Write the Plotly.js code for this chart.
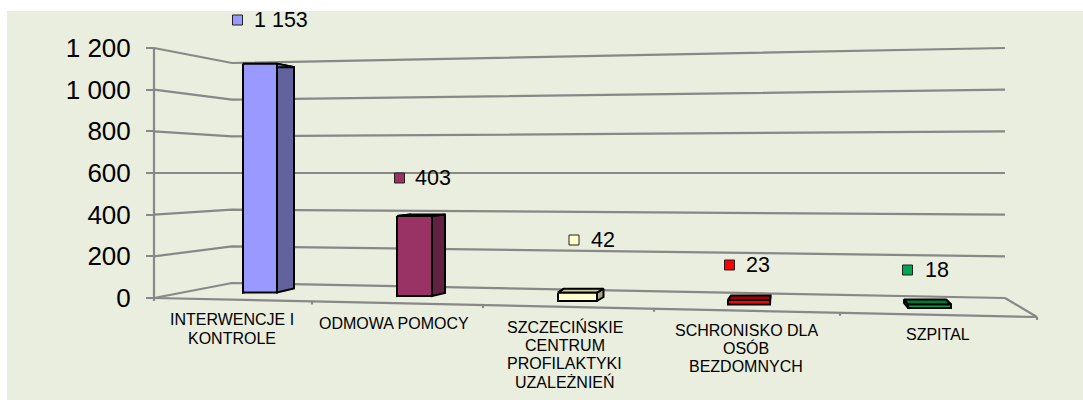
<!DOCTYPE html>
<html><head><meta charset="utf-8">
<script src="https://cdn.plot.ly/plotly-3.0.1.min.js"></script>
<style>html,body{margin:0;padding:0;background:#fff;overflow:hidden}#c{position:absolute;left:7px;top:11px;width:1076px;height:389px}</style>
</head><body><div id="c"></div>
<script>
// ---- data ----
const categories = ["INTERWENCJE I<br>KONTROLE","ODMOWA POMOCY","SZCZECIŃSKIE<br>CENTRUM<br>PROFILAKTYKI<br>UZALEŻNIEŃ","SCHRONISKO DLA<br>OSÓB<br>BEZDOMNYCH","SZPITAL"];
const values = [1153,403,42,23,18];
const yTicks = [0,200,400,600,800,1000,1200];
const yTickText = ["0","200","400","600","800","1 000","1 200"];

// ---- styles ----
const frontColors = ["#9999FF","#993366","#FFFFCC","#FF0000","#00A651"];
const sideColors  = ["#62629F","#632142","#A5A584","#A50000","#006B34"];
const topColors   = ["#7A7ACC","#7A2952","#CCCCA3","#A80000","#007A3D"];
const grid = "#888888", BG = "#EAEEDE", FONT = "Liberation Sans, Arial, sans-serif";

// ---- pseudo-3D geometry (page pixels; converted into axis units) ----
const PXPERUNIT = 250/1200, FACE = 0.1985;
const v = py => (298-py)/PXPERUNIT;            // page y -> y-axis units
const frontL = [243,397,558,728,908], frontR = [277,432,597,770,951];
const floorY = [292.5,296,301,304.5,308];
const dxL = [17,13,6,3,-4], dxR = [17,13,6.5,0.5,-5], dyT = [3.5,-1.5,-4,-4.5,-5], dyB = [-4,-3,-4,-4.5,-5];
const catLabelX = [231.7,393.8,564.7,746,937.5], catLabelY = [319.7,323.3,326.7,330,334], catLineGap = 18.3;
const markerX = [237.5,399.5,574,729.5,907.5], markerY = [20,178,240,265,270];
const textX = [254,415,591,746,925], textY = [22,180,242,266.5,271.5];
const axisTicksX = [154,312,483,654,840,1037];

const traces = [];
const line = (xs,ys,w=2.2,c=grid)=>traces.push({type:"scatter",mode:"lines",x:xs,y:ys,hoverinfo:"skip",line:{color:c,width:w}});
// walls and gridlines
line([154,154],[0,1200]);
yTicks.forEach(t=>{ line([154,232,1005],[t,72+0.88*t,t]); });
// floor
line([1005,1037,154],[0,v(317),0]);
axisTicksX.forEach(x=>{ const f=v(298+(x-154)*19/883); line([x,x],[f,f-3/PXPERUNIT]); });

const poly=(xs,ys,fill)=>traces.push({type:"scatter",mode:"lines",x:xs,y:ys,fill:"toself",fillcolor:fill,hoverinfo:"skip",line:{color:"#000",width:2}});
values.forEach((val,i)=>{
  const l=frontL[i], r=frontR[i], b=v(floorY[i]), t=b+val*FACE/PXPERUNIT;
  const dT=dyT[i]/PXPERUNIT, dB=dyB[i]/PXPERUNIT;
  poly([l,l+dxL[i],l+dxL[i],l,l],[t,t-dT,b-dB,b,t],sideColors[i]);
  poly([r,r+dxR[i],r+dxR[i],r,r],[t,t-dT,b-dB,b,t],sideColors[i]);
  poly([l,l+dxL[i],r+dxR[i],r,l],[t,t-dT,t-dT,t,t],topColors[i]);
  poly([l,r,r,l,l],[t,t,b,b,t],frontColors[i]);
});
// data-label keys and values
traces.push({type:"scatter",mode:"markers",x:markerX,y:markerY.map(v),hoverinfo:"skip",cliponaxis:false,
  marker:{symbol:"square",size:10,color:frontColors,line:{color:"#222",width:1}}});
traces.push({type:"scatter",mode:"text",x:textX,y:textY.map(v),hoverinfo:"skip",cliponaxis:false,
  text:values.map(n=>String(n).replace(/\B(?=(\d{3})+$)/g," ")),textposition:"middle right",
  textfont:{family:FONT,size:21.5,color:"#000"}});

const annotations = [];
categories.forEach((c,i)=>c.split("<br>").forEach((txt,k)=>annotations.push({xref:"x",yref:"y",x:catLabelX[i],y:v(catLabelY[i]+k*catLineGap),
  text:txt,showarrow:false,xanchor:"center",yanchor:"middle",align:"center",font:{family:FONT,size:16,color:"#000"}})));

Plotly.newPlot("c",traces,{
  width:1076,height:389,margin:{l:0,r:0,t:0,b:0,pad:0},
  paper_bgcolor:BG,plot_bgcolor:"rgba(0,0,0,0)",showlegend:false,
  xaxis:{range:[7,1083],visible:false,fixedrange:true},
  yaxis:{range:[v(400),v(11)],anchor:"free",position:(154-7)/1076,tickmode:"array",tickvals:yTicks,ticktext:yTickText,showgrid:false,zeroline:false,
    showline:false,ticks:"outside",ticklen:8,tickcolor:grid,tickwidth:2.2,
    ticklabelstandoff:10,tickfont:{family:FONT,size:26,color:"#000"},fixedrange:true,automargin:false},
  annotations
},{displayModeBar:false,staticPlot:true});
</script></body></html>
